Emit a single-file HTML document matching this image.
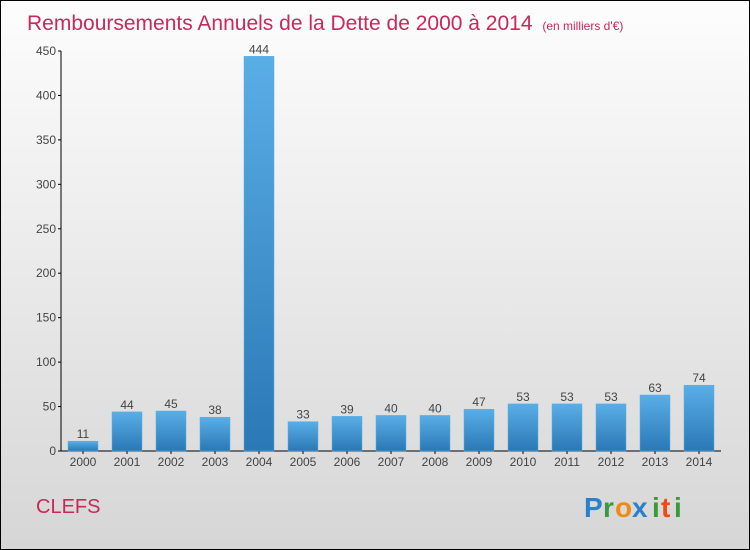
<!DOCTYPE html>
<html><head><meta charset="utf-8"><style>
body{margin:0}
#c{width:750px;height:550px;position:relative;box-sizing:border-box;border:1px solid #000;background:linear-gradient(#fdfdfd,#d6d6d6);font-family:"Liberation Sans",sans-serif;overflow:hidden}
</style></head><body>
<div id="c">
<svg width="750" height="550" style="position:absolute;left:-1px;top:-1px">
<defs><linearGradient id="bg" x1="0" y1="0" x2="0" y2="1"><stop offset="0" stop-color="#5aaee6"/><stop offset="1" stop-color="#2a78b6"/></linearGradient></defs>
<text x="27" y="30" font-size="21" fill="#c8285a">Remboursements Annuels de la Dette de 2000 à 2014 <tspan font-size="12" dx="4">(en milliers d'€)</tspan></text>
<g id="axes"></g><g id="bars"></g>
<text x="36" y="513" font-size="20" fill="#c8285a">CLEFS</text>
<g font-size="28" font-weight="bold">
<text x="584" y="517" fill="#2a7fd0">P</text><text x="603" y="517" fill="#3a9a3a">r</text><text x="615" y="517" fill="#f08a10">o</text><text x="632" y="517" fill="#2a7fd0">x</text><text x="652" y="517" fill="#3a9a3a">i</text><text x="661" y="517" fill="#f04a10">t</text><text x="674" y="517" fill="#3a9a3a">i</text></g>
</svg></div>
<script>
const years=["2000","2001","2002","2003","2004","2005","2006","2007","2008","2009","2010","2011","2012","2013","2014"];
const values=[11,44,45,38,444,33,39,40,40,47,53,53,53,63,74];
const ticks=[0,50,100,150,200,250,300,350,400,450];
const NS="http://www.w3.org/2000/svg";
const y0=451,ppu=400/450,xAxis=61,step=44,first=83,bw=30;
const yS=v=>y0-v*ppu, xS=i=>first+i*step;
function mk(t,a,p,txt){const e=document.createElementNS(NS,t);for(const k in a)e.setAttribute(k,a[k]);if(txt!==undefined)e.textContent=txt;p.appendChild(e);return e;}
const ax=document.getElementById('axes'),bg=document.getElementById('bars');
let l=mk('line',{x1:xAxis,y1:yS(450),x2:xAxis,y2:y0,stroke:'#000'},ax);


l=mk('line',{x1:xAxis,y1:y0,x2:xS(years.length-1)+22,y2:y0,stroke:'#000'},ax);


ticks.forEach(t=>{mk('line',{x1:xAxis-3,y1:yS(t),x2:xAxis,y2:yS(t),stroke:'#000'},ax);
const e=mk('text',{x:xAxis-5,y:yS(t)+4,'font-size':12,fill:'#444','text-anchor':'end'},ax,t);

});
years.forEach((y,i)=>{const v=values[i],x=xS(i);
const r=mk('rect',{x:x-bw/2,y:yS(v),width:bw,height:y0-yS(v),fill:'url(#bg)',stroke:'#5aaee6','stroke-width':0.5},bg);


const t=mk('text',{x:x,y:yS(v)-3,'font-size':12,fill:'#444','text-anchor':'middle'},bg,v);


mk('line',{x1:x,y1:y0,x2:x,y2:y0+3,stroke:'#000'},ax);
const xl=mk('text',{x:x,y:y0+15,'font-size':12,fill:'#444','text-anchor':'middle'},ax,y);

});
</script></body></html>
